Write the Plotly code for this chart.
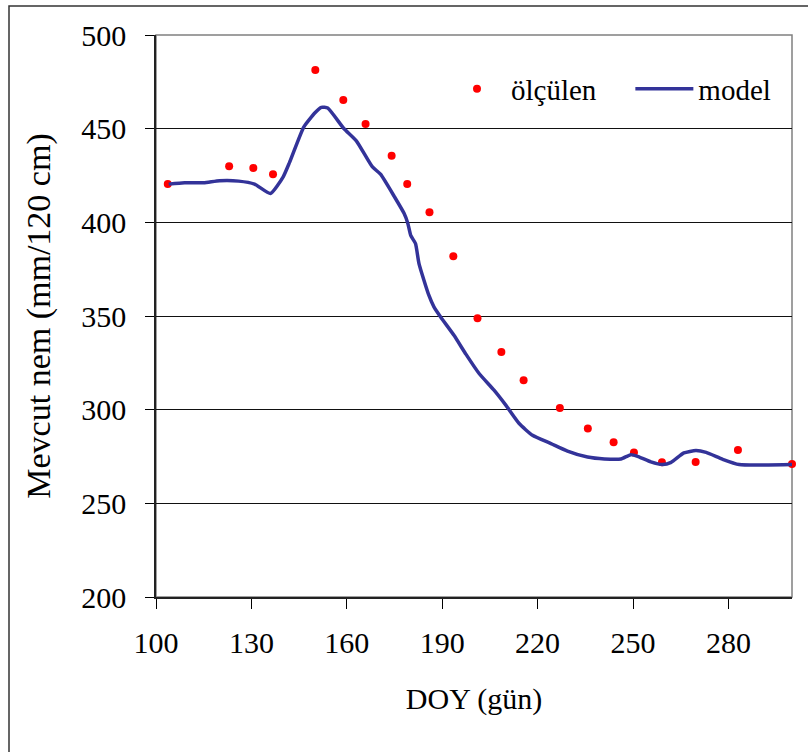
import plotly.graph_objects as go

# Measured (ölçülen)
obs_doy = [103.7, 123, 130.6, 136.8, 150.1, 158.9, 165.9, 174.1, 179, 186, 193.5,
           201.1, 208.6, 215.6, 227, 235.8, 243.9, 250.3, 259.1, 269.7, 283, 300]
obs_val = [420.4, 430, 429, 425.7, 481.3, 465.3, 452.5, 435.5, 420.4, 405.4, 381.9,
           348.8, 330.8, 315.7, 300.9, 290, 282.6, 277.2, 271.9, 272, 278.5, 271]

# Model
mod_doy = [104, 109, 115, 120, 126, 131, 136, 140, 142, 146.5, 150, 152, 154, 159, 163,
           168, 170.6, 175, 178, 179.2, 180.1, 181.6, 182.7, 185.8, 187.4, 189.5, 193.7,
           197.5, 201.6, 206.3, 210, 214.2, 218.4, 224.2, 229.4, 235.7, 241, 246.2, 249.3,
           252, 255.6, 259.3, 262, 266, 269.8, 273, 278.2, 283.4, 300]
mod_val = [420.4, 421.1, 421.1, 422.2, 422, 420.4, 415.4, 424.3, 432, 451, 458.5, 461.4,
           461, 450.2, 443.5, 429.7, 425.7, 413.6, 404.8, 399.4, 393, 388.7, 378, 361.1,
           354.9, 349.5, 339.7, 329.5, 319.3, 310.4, 302.4, 292.6, 286.3, 281.9, 277.9,
           274.7, 273.7, 273.7, 276, 274.7, 272.1, 270.7, 271.9, 276.9, 278.2, 277.2,
           273.5, 270.7, 270.7]

x_ticks = [100, 130, 160, 190, 220, 250, 280]
y_ticks = [200, 250, 300, 350, 400, 450, 500]

FONT = "Liberation Serif, Times New Roman, serif"
NBSP = "\u00a0"

fig = go.Figure()
fig.add_trace(go.Scatter(x=obs_doy, y=obs_val, mode="markers", name="ölçülen" + NBSP * 4,
                         marker=dict(color="#FF0000", size=8), cliponaxis=False))
fig.add_trace(go.Scatter(x=mod_doy, y=mod_val, mode="lines", name="model",
                         line=dict(color="#333399", width=3.5, shape="spline", smoothing=0.5)))

L, T = 156, 35
W, H = 808, 752
R = W - 792
B = H - 597
pw = W - L - R
ph = H - T - B

def px_x(p):
    return (p - L) / pw

def px_y(p):
    return (H - B - p) / ph

fig.update_layout(
    width=W, height=H,
    margin=dict(l=L, r=R, t=T, b=B),
    paper_bgcolor="white", plot_bgcolor="white",
    font=dict(family=FONT, size=30, color="black"),
    showlegend=True,
    legend=dict(orientation="h", x=px_x(776), xanchor="right", y=px_y(89), yanchor="middle",
                bgcolor="rgba(0,0,0,0)", font=dict(size=29, family=FONT),
                itemwidth=58, tracegroupgap=0),
    xaxis=dict(range=[100, 300], tickvals=x_ticks, ticks="outside", ticklen=10,
               tickcolor="black", showline=True, linecolor="#222", linewidth=1.5,
               showgrid=False, zeroline=False, ticklabelstandoff=8,
               tickfont=dict(size=30, family=FONT),
               title=dict(text="DOY (gün)", font=dict(size=30, family=FONT), standoff=30)),
    yaxis=dict(range=[200, 500], tickvals=y_ticks, ticks="outside", ticklen=9,
               tickcolor="black", showline=True, linecolor="#222", linewidth=1.5,
               showgrid=True, gridcolor="#111", gridwidth=1, zeroline=False,
               ticklabelstandoff=13,
               tickfont=dict(size=30, family=FONT),
               title=dict(text="Mevcut nem (mm/120 cm)", font=dict(size=34, family=FONT), standoff=20)),
    shapes=[
        dict(type="rect", xref="paper", yref="paper", x0=0, x1=1, y0=0, y1=1,
             line=dict(color="#808080", width=1.5), layer="below"),
        dict(type="rect", xref="paper", yref="paper", x0=px_x(9), x1=px_x(830),
             y0=px_y(780), y1=px_y(6), line=dict(color="#333", width=1.5), layer="below"),
    ],
)

fig.write_html("out.html")
